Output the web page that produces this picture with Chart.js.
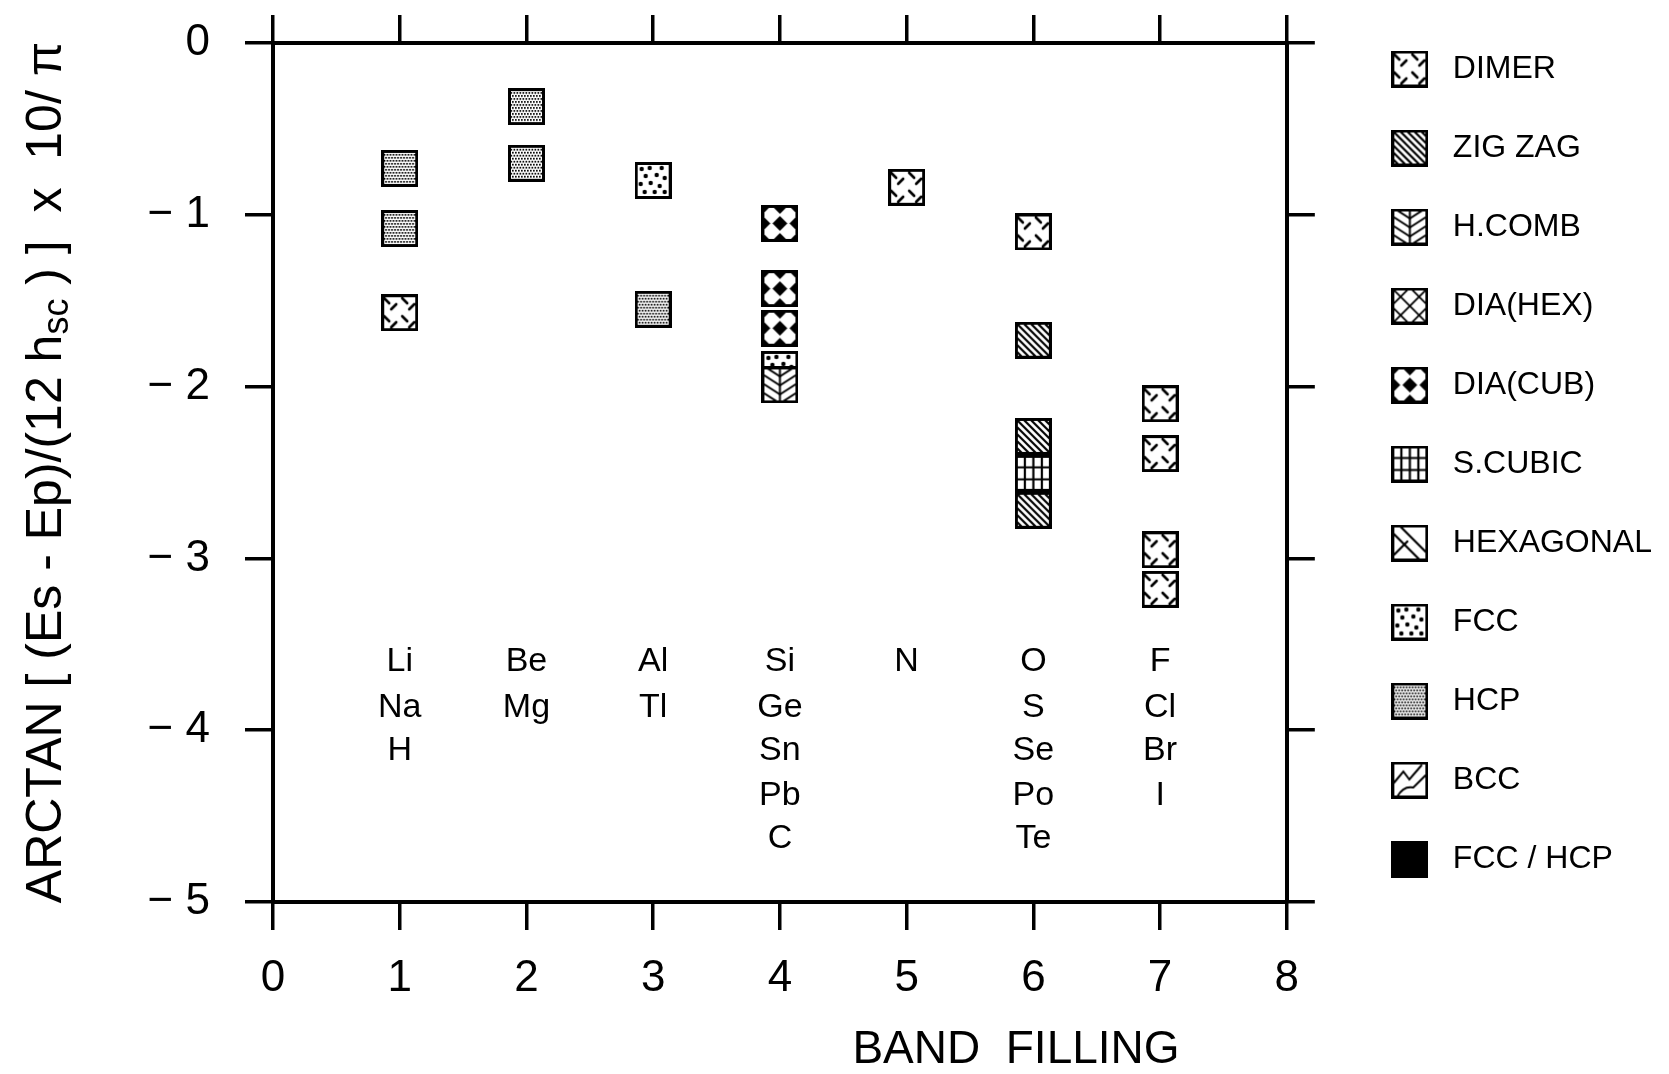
<!DOCTYPE html>
<html>
<head>
<meta charset="utf-8">
<title>Band filling</title>
<script src="https://cdn.jsdelivr.net/npm/chart.js@4.4.0/dist/chart.umd.min.js"></script>
<style>
	html, body { margin: 0; padding: 0; background: #fff; }
	#wrap { width: 1669px; height: 1074px; }
</style>
</head>
<body>
<div id="wrap"><canvas id="myChartBand"></canvas></div>
<script>
// band filling (x) and arctan value (y) of each element, grouped by structure
var dimerX = [1, 5, 6, 7, 7, 7, 7];
var dimerY = [-1.57, -0.84, -1.10, -2.10, -2.39, -2.95, -3.18];
var zigzagX = [6, 6, 6];
var zigzagY = [-1.73, -2.29, -2.72];
var hcombX = [4];
var hcombY = [-1.99];
var diaCubX = [4, 4, 4];
var diaCubY = [-1.05, -1.43, -1.66];
var sCubicX = [6];
var sCubicY = [-2.505];
var fccX = [3, 4];
var fccY = [-0.80, -1.90];
var hcpX = [1, 1, 2, 2, 3];
var hcpY = [-0.73, -1.08, -0.37, -0.70, -1.55];

// element names written under each column
var elementCols = [1, 2, 3, 4, 5, 6, 7];
var elementNames = [
	['Li', 'Na', 'H'],
	['Be', 'Mg'],
	['Al', 'Tl'],
	['Si', 'Ge', 'Sn', 'Pb', 'C'],
	['N'],
	['O', 'S', 'Se', 'Po', 'Te'],
	['F', 'Cl', 'Br', 'I'],
];
var elementRowY = [-3.6, -3.87, -4.12, -4.38, -4.63];

var xTitle = 'BAND  FILLING';
var yTitleParts = ['ARCTAN [ (Es - Ep)/(12 h', 'sc', ' ) ]  x  10/ \u03c0'];

var FONT = '"Liberation Sans", Arial, sans-serif';
Chart.defaults.font.family = FONT;
Chart.defaults.color = '#000';

function line(g, a, b, c, d) {
	g.beginPath();
	g.moveTo(a, b);
	g.lineTo(c, d);
	g.stroke();
}

function makeIcon(drawFill) {
	var c = document.createElement('canvas');
	c.width = 37;
	c.height = 37;
	var g = c.getContext('2d');
	g.fillStyle = '#fff';
	g.fillRect(0, 0, 37, 37);
	g.save();
	g.beginPath();
	g.rect(1, 1, 35, 35);
	g.clip();
	g.strokeStyle = '#000';
	g.fillStyle = '#000';
	g.lineWidth = 2;
	g.lineCap = 'round';
	drawFill(g);
	g.restore();
	g.lineWidth = 3;
	g.strokeStyle = '#000';
	g.strokeRect(1.5, 1.5, 34, 34);
	return c;
}

var icons = {
	dimer: makeIcon(function (g) {
		g.lineWidth = 2.6;
		[[0, 0], [18, 0], [0, 18], [18, 18]].forEach(function (o) {
			line(g, o[0] + 3, o[1] + 4, o[0] + 8, o[1] + 9);
			line(g, o[0] + 10, o[1] + 15, o[0] + 15, o[1] + 10);
		});
	}),
	zigzag: makeIcon(function (g) {
		g.lineWidth = 2.2;
		for (var k = -42; k < 42; k += 7) line(g, k, 0, k + 37, 37);
	}),
	hcomb: makeIcon(function (g) {
		g.lineWidth = 2;
		line(g, 18.5, 0, 18.5, 37);
		for (var y = -9; y < 40; y += 9) {
			line(g, 3, y, 18.5, y + 10);
			line(g, 34, y, 18.5, y + 10);
		}
	}),
	diaHex: makeIcon(function (g) {
		g.lineWidth = 1.8;
		for (var k = -37; k < 80; k += 18.5) {
			line(g, k, 0, k + 37, 37);
			line(g, k, 0, k - 37, 37);
		}
	}),
	diaCub: makeIcon(function (g) {
		g.fillRect(0, 0, 37, 37);
		g.fillStyle = '#fff';
		g.strokeStyle = '#fff';
		g.lineJoin = 'round';
		g.lineWidth = 3;
		[[10, 10], [27, 10], [10, 27], [27, 27]].forEach(function (p) {
			g.beginPath();
			g.moveTo(p[0], p[1] - 7.5);
			g.lineTo(p[0] + 7.5, p[1]);
			g.lineTo(p[0], p[1] + 7.5);
			g.lineTo(p[0] - 7.5, p[1]);
			g.closePath();
			g.fill();
			g.stroke();
		});
	}),
	sCubic: makeIcon(function (g) {
		g.lineWidth = 2.2;
		[10, 18.5, 27].forEach(function (v) { line(g, v, 0, v, 37); });
		[12.5, 24.5].forEach(function (v) { line(g, 0, v, 37, v); });
	}),
	hexagonal: makeIcon(function (g) {
		g.lineWidth = 2.2;
		line(g, 2, 9, 28, 35);
		line(g, 9, 2, 35, 28);
		line(g, 3, 30, 16, 17);
	}),
	fcc: makeIcon(function (g) {
		[[7, 7], [15, 6], [27, 6], [11, 14], [22, 13], [30, 16], [6, 22], [16, 21],
			[25, 24], [10, 30], [20, 30], [30, 30]].forEach(function (p) {
			g.beginPath();
			g.arc(p[0], p[1], 2.2, 0, Math.PI * 2);
			g.fill();
		});
	}),
	hcp: makeIcon(function (g) {
		for (var y = 1, r = 0; y < 37; y += 3, r++) {
			for (var x = 1 + (r % 2) * 1.5; x < 37; x += 3) g.fillRect(x, y, 1.7, 1.7);
		}
	}),
	bcc: makeIcon(function (g) {
		g.lineWidth = 2;
		g.beginPath();
		g.moveTo(2, 22);
		g.lineTo(12, 10);
		g.lineTo(18, 18);
		g.lineTo(30, 4);
		g.stroke();
		g.beginPath();
		g.moveTo(6, 35);
		g.quadraticCurveTo(12, 24, 22, 26);
		g.lineTo(34, 14);
		g.stroke();
	}),
	fccHcp: makeIcon(function (g) {
		g.fillRect(0, 0, 37, 37);
	}),
};

function toPoints(xs, ys) {
	return xs.map(function (x, i) {
		return { x: x, y: ys[i] };
	});
}

function makeSet(label, xs, ys, icon) {
	return {
		label: label,
		data: toPoints(xs, ys),
		pointStyle: icon,
		pointRadius: 18,
		showLine: false,
	};
}

var textPlugin = {
	id: 'textPlugin',
	afterDraw: function (chart) {
		var ctx = chart.ctx;
		var xs = chart.scales.x;
		var ys = chart.scales.y;
		var area = chart.chartArea;
		ctx.save();
		ctx.fillStyle = '#000';
		ctx.textAlign = 'center';
		ctx.textBaseline = 'middle';
		ctx.font = '34px ' + FONT;
		elementNames.forEach(function (names, i) {
			names.forEach(function (name, j) {
				ctx.fillText(name, xs.getPixelForValue(elementCols[i]), ys.getPixelForValue(elementRowY[j]));
			});
		});

		ctx.font = '46px ' + FONT;
		ctx.fillText(xTitle, 1016, 1050);

		// rotated y title with subscript
		ctx.translate(43, (area.top + area.bottom) / 2);
		ctx.rotate(-Math.PI / 2);
		ctx.textAlign = 'left';
		ctx.textBaseline = 'alphabetic';
		var mainFont = '50px ' + FONT;
		var subFont = '36px ' + FONT;
		ctx.font = mainFont;
		var w1 = ctx.measureText(yTitleParts[0]).width;
		var w3 = ctx.measureText(yTitleParts[2]).width;
		ctx.font = subFont;
		var w2 = ctx.measureText(yTitleParts[1]).width;
		var x0 = -(w1 + w2 + w3) / 2;
		ctx.font = mainFont;
		ctx.fillText(yTitleParts[0], x0, 18);
		ctx.font = subFont;
		ctx.fillText(yTitleParts[1], x0 + w1, 25);
		ctx.font = mainFont;
		ctx.fillText(yTitleParts[2], x0 + w1 + w2, 18);
		ctx.restore();
	},
};

var gridOpts = { drawOnChartArea: false, drawTicks: true, tickLength: 28, lineWidth: 3.5, color: '#000' };
var borderOpts = { display: true, width: 4, color: '#000' };

function noPad(s) {
	s.paddingTop = 0;
	s.paddingBottom = 0;
	s.paddingLeft = 0;
	s.paddingRight = 0;
}

var ctx = document.getElementById('myChartBand');
var myChart = new Chart(ctx, {
	type: 'scatter',
	data: {
		datasets: [
			makeSet('DIMER', dimerX, dimerY, icons.dimer),
			makeSet('ZIG ZAG', zigzagX, zigzagY, icons.zigzag),
			makeSet('H.COMB', hcombX, hcombY, icons.hcomb),
			makeSet('DIA(HEX)', [], [], icons.diaHex),
			makeSet('DIA(CUB)', diaCubX, diaCubY, icons.diaCub),
			makeSet('S.CUBIC', sCubicX, sCubicY, icons.sCubic),
			makeSet('HEXAGONAL', [], [], icons.hexagonal),
			makeSet('FCC', fccX, fccY, icons.fcc),
			makeSet('HCP', hcpX, hcpY, icons.hcp),
			makeSet('BCC', [], [], icons.bcc),
			makeSet('FCC / HCP', [], [], icons.fccHcp),
		],
	},
	options: {
		responsive: true,
		maintainAspectRatio: false,
		animation: false,
		events: [],
		layout: { padding: { top: 6, left: 0, right: 7, bottom: 0 } },
		plugins: {
			tooltip: { enabled: false },
			legend: {
				position: 'right',
				align: 'start',
				maxWidth: 400,
				labels: {
					usePointStyle: true,
					pointStyleWidth: 54,
					padding: 47,
					color: '#000',
					font: { size: 32 },
					generateLabels: function (chart) {
						return chart.data.datasets.map(function (ds, i) {
							return {
								text: ds.label,
								pointStyle: ds.pointStyle,
								datasetIndex: i,
								hidden: false,
								lineWidth: 0,
								fontColor: '#000',
								fillStyle: '#fff',
								strokeStyle: '#000',
							};
						});
					},
				},
			},
		},
		scales: {
			x: {
				type: 'linear',
				position: 'bottom',
				min: 0,
				max: 8,
				ticks: { stepSize: 1, font: { size: 44 }, color: '#000', padding: 22 },
				grid: gridOpts,
				border: borderOpts,
				afterFit: function (s) { s.height = 172; noPad(s); },
			},
			xTop: {
				type: 'linear',
				position: 'top',
				min: 0,
				max: 8,
				ticks: { stepSize: 1, display: false },
				grid: gridOpts,
				border: borderOpts,
				afterFit: function (s) { s.height = 37; noPad(s); },
			},
			y: {
				type: 'linear',
				position: 'left',
				min: -5,
				max: 0,
				ticks: {
					stepSize: 1,
					font: { size: 44 },
					color: '#000',
					padding: 35,
					callback: function (v) {
						return v === 0 ? '0' : '\u2212 ' + Math.abs(v);
					},
				},
				grid: gridOpts,
				border: borderOpts,
				afterFit: function (s) { s.width = 273; noPad(s); },
			},
			yRight: {
				type: 'linear',
				position: 'right',
				min: -5,
				max: 0,
				ticks: { stepSize: 1, display: false },
				grid: gridOpts,
				border: borderOpts,
				afterFit: function (s) { s.width = 49; noPad(s); },
			},
		},
	},
	plugins: [textPlugin],
});
</script>
</body>
</html>
